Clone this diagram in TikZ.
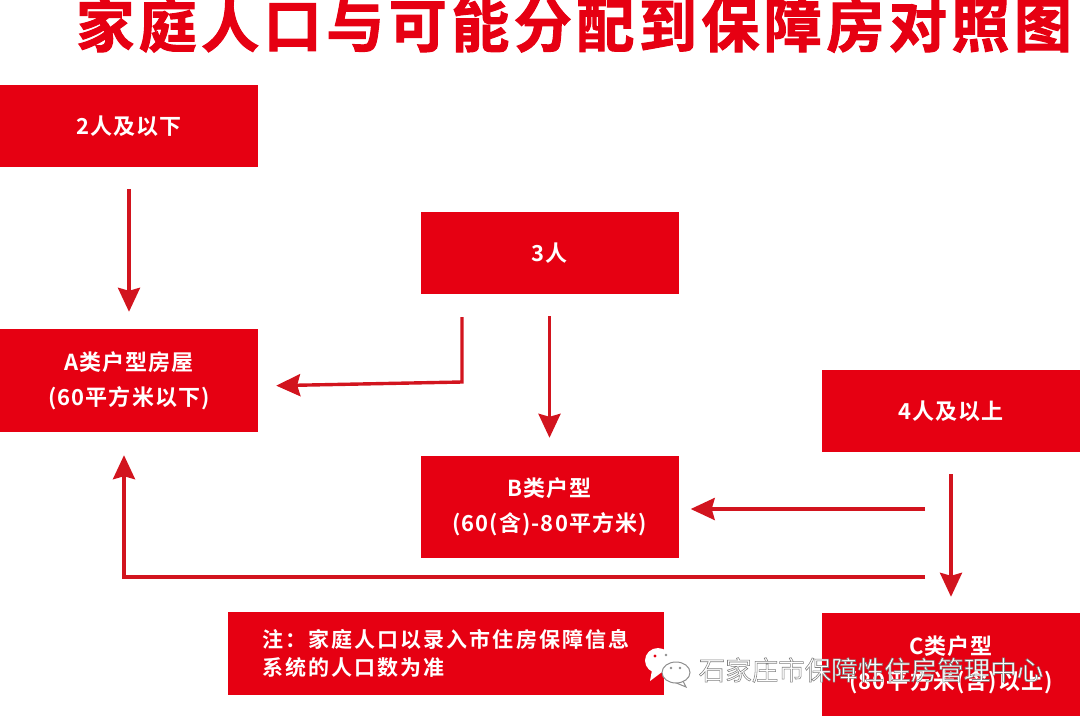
\documentclass[tikz,border=0pt]{standalone}
\usepackage{fontspec}
\usetikzlibrary{arrows.meta}
\setmainfont{Noto Sans CJK SC}[BoldFont={* Bold},LetterSpace=5]
\newfontfamily\notefont{Noto Sans CJK SC Bold}[LetterSpace=10]
\newfontfamily\titlefont{Noto Sans CJK SC Bold}[LetterSpace=7.8,FakeBold=1.8]
\newfontfamily\markfont{Noto Sans CJK SC}
\definecolor{boxred}{HTML}{E60012}
\definecolor{arrowred}{HTML}{D2141E}
\definecolor{markgray}{HTML}{8E8E8E}
\tikzset{
roombox/.style={fill=boxred, text=white, inner sep=0pt, align=center, font=\bfseries\fontsize{22}{35}\selectfont},
link/.style={draw=arrowred, line width=3.4pt, -{Stealth[length=24pt,width=22pt,inset=3pt]}},
}
\begin{document}
\begin{tikzpicture}[x=1pt,y=-1pt]
\def\wide{258pt}
\useasboundingbox (0,0) rectangle (1080,716);
\node[anchor=base west, text=boxred, inner sep=0pt, font=\titlefont\fontsize{58}{58}\selectfont] (title) at (76,47) {家庭人口与可能分配到保障房对照图};

%boxes for the family sizes and the room types
\node[roombox, minimum width=\wide, minimum height=82pt] (two) at (129,126) {2人及以下};
\node[roombox, minimum width=\wide, minimum height=82pt] (three) at (549.5,253) {3人};
\node[roombox, minimum width=\wide, minimum height=82pt] (four) at (951,411) {4人及以上};
\node[roombox, minimum width=\wide, minimum height=103pt] (roomA) at (129,380.5) {A类户型房屋\\(60平方米以下)};
\node[roombox, minimum width=\wide, minimum height=102pt] (roomB) at (549.5,507) {B类户型\\(60(含)-80平方米)};
\node[roombox, minimum width=\wide, minimum height=103pt] (roomC) at (951,664.5) {C类户型\\(80平方米(含)以上)};
\node[fill=boxred, text=white, inner sep=0pt, minimum width=436pt, minimum height=83pt, text width=368pt, align=left, font=\notefont\fontsize{21}{28}\selectfont] (note) at (446,653.5) {注：家庭人口以录入市住房保障信息\\系统的人口数为准};

%bends of the two long connectors
\coordinate (bendA) at (462,382);
\coordinate (bendC) at (124,577);
\coordinate (fourB) at (925,509);
\coordinate (fourA) at (925,577);

%straight connectors
\draw[link, shorten <=22pt, shorten >=17pt] (two.south) -- (roomA.north);
\draw[link, shorten <=22pt, shorten >=18pt] (three.south) -- (roomB.north);
\draw[link, shorten <=22pt, shorten >=16pt] (four.south) -- (roomC.north);
\draw[link, shorten >=12pt] (fourB) -- (roomB.east |- fourB);

%connectors with a bend
\draw[link, shorten >=18pt] (three.south -| bendA) ++(0,23) -- (bendA) -- ([yshift=-5.5pt]roomA.east);
\draw[link, shorten >=23pt] (fourA) -- (bendC) -- (bendC |- roomA.south);

%watermark
\fill[white] (652,670) -- (650,681) -- (662,672) -- cycle;
\fill[white] (658,660.5) ellipse (13pt and 12.5pt);
\fill[boxred] (655,656) circle (1.6pt);
\fill[markgray] (666,655) circle (1.4pt);
\draw[markgray, line width=1pt, fill=white] (682,679) -- (686,687) -- (674,682);
\draw[markgray, line width=1pt, fill=white] (676,672.5) ellipse (14pt and 10.5pt);
\foreach \x/\y in {671/668,680/668}{
\fill[markgray] (\x,\y) circle (1.4pt);
}
\node[inner sep=0pt, font=\markfont\fontsize{26.5}{26.5}\selectfont] (mark) at (871,670) {\special{pdf:code 2 Tr 0.55 w 0.5 0.5 0.5 RG 1 1 1 rg}石家庄市保障性住房管理中心\special{pdf:code 0 Tr}};
\end{tikzpicture}
\end{document}
